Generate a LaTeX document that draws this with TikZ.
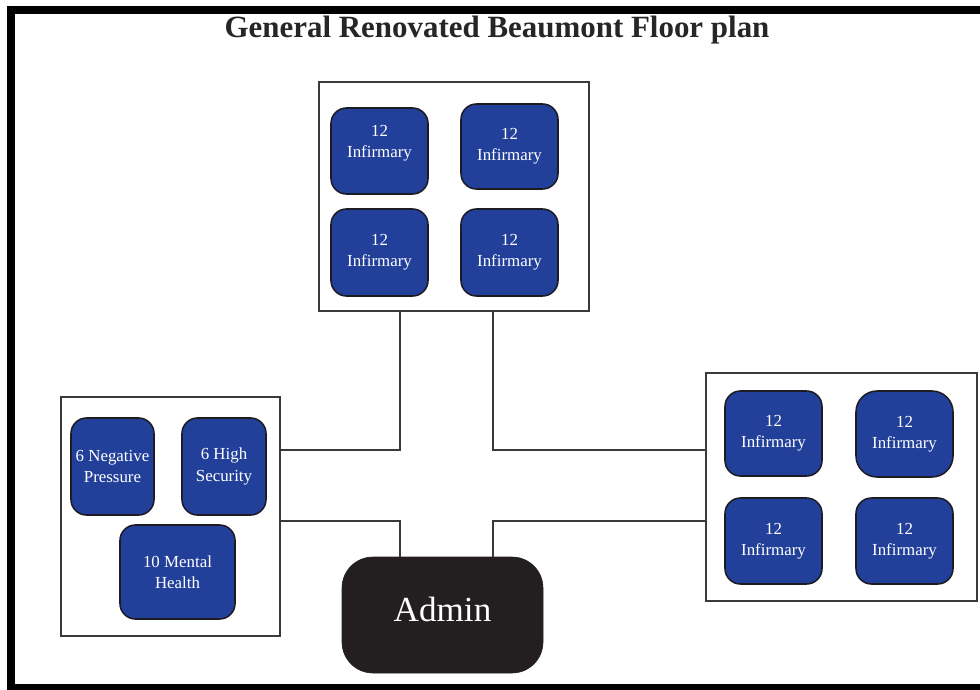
\documentclass[tikz,border=0pt]{standalone}
\usepackage{fontspec}
\setmainfont{Liberation Serif}
\usepackage{xcolor}
\usepackage{tikz}
\usetikzlibrary{positioning,calc}
\definecolor{WardBlue}{HTML}{22409A}
\definecolor{WardEdge}{HTML}{1C1C24}
\definecolor{AdminDark}{HTML}{231F20}
\definecolor{WallGray}{HTML}{3A3A3A}

\begin{document}
\begin{tikzpicture}[x=0.025cm,y=-0.025cm,
                    every node/.style={font=\fontsize{12}{15}\selectfont},
                    wing/.style={draw=WallGray,line width=1.3pt,fill=white,inner sep=0pt},
                    ward/.style={draw=WardEdge,fill=WardBlue,rounded corners=11pt,
                                 line width=1.1pt,text=white,align=center,inner sep=1pt},
                    wall/.style={draw=WallGray,line width=1.3pt}]
      \useasboundingbox (0,0) rectangle (980,690);
      \fill[white] (0,0) rectangle (980,690);
      \draw[line width=8*0.025cm] (1000,10) -- (11,10) -- (11,688) -- (1000,688);
      \node[font=\bfseries\fontsize{22}{24}\selectfont,text=black!85] (title) at (497,30)
        {General Renovated Beaumont Floor plan};
      % wings
      \node[wing,minimum width=270*0.025cm,minimum height=229*0.025cm] (wingT) at (454,196.5) {};
      \node[wing,minimum width=219*0.025cm,minimum height=239*0.025cm] (wingL) at (170.5,516.5) {};
      \node[wing,minimum width=271*0.025cm,minimum height=228*0.025cm] (wingR) at (841.5,487) {};
      % wards
      \node[ward,minimum width=97*0.025cm,minimum height=86*0.025cm] (t1) at (379.5,151) {12\\Infirmary\\[-1.5pt]};
      \node[ward,minimum width=97*0.025cm,minimum height=85*0.025cm] (t2) at (509.5,146.5) {12\\Infirmary};
      \node[ward,minimum width=97*0.025cm,minimum height=87*0.025cm] (t3) at (379.5,252.5) {12\\Infirmary};
      \node[ward,minimum width=97*0.025cm,minimum height=87*0.025cm] (t4) at (509.5,252.5) {12\\Infirmary};
      \node[ward,minimum width=83*0.025cm,minimum height=97*0.025cm] (negp) at (112.5,466.5) {6 Negative\\Pressure};
      \node[ward,minimum width=84*0.025cm,minimum height=97*0.025cm] (highs) at (224,466.5) {6 High\\Security};
      \node[ward,minimum width=115*0.025cm,minimum height=94*0.025cm] (mental) at (177.5,572) {10 Mental\\Health};
      \node[ward,minimum width=97*0.025cm,minimum height=85*0.025cm] (r1) at (773.5,433.5) {12\\Infirmary};
      \node[ward,minimum width=97*0.025cm,minimum height=86*0.025cm,rounded corners=15pt] (r2) at (904.5,434) {12\\Infirmary};
      \node[ward,minimum width=97*0.025cm,minimum height=86*0.025cm] (r3) at (773.5,541) {12\\Infirmary};
      \node[ward,minimum width=97*0.025cm,minimum height=86*0.025cm] (r4) at (904.5,541) {12\\Infirmary};
      \node[draw=AdminDark,fill=AdminDark,rounded corners=22pt,text=white,
            minimum width=201*0.025cm,minimum height=116*0.025cm,
            text height=10pt,text depth=1.4pt,
            font=\fontsize{25}{28}\selectfont] (admin) at (442.5,615) {Admin};
      % halls
      \coordinate (hallNW) at (400,450);
      \coordinate (hallNE) at (493,450);
      \coordinate (hallSW) at (400,521);
      \coordinate (hallSE) at (493,521);
      \draw[wall] (wingT.south -| hallNW) |- (wingL.east |- hallNW);
      \draw[wall] (wingT.south -| hallNE) |- (wingR.west |- hallNE);
      \draw[wall] (wingL.east |- hallSW) -| (admin.north -| hallSW);
      \draw[wall] (wingR.west |- hallSE) -| (admin.north -| hallSE);
    \end{tikzpicture}
\end{document}
